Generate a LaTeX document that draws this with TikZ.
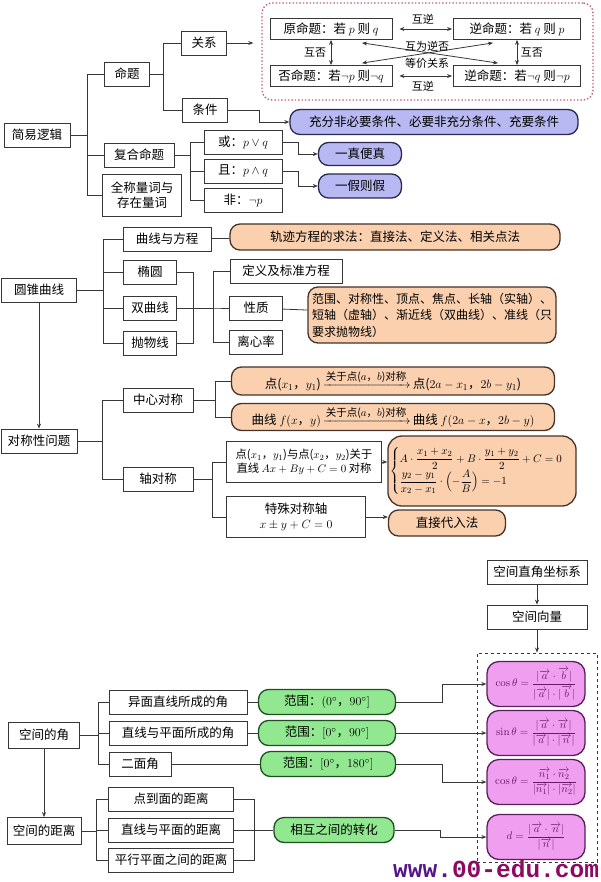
\documentclass[tikz,border=0pt]{standalone}
\usepackage{amsmath,amssymb}
\usepackage[no-math]{fontspec}
\setmainfont{Noto Sans CJK SC}
\newfontfamily\webfont{Liberation Mono}
\usepackage{tikz}
\usetikzlibrary{arrows.meta,positioning,calc}
\definecolor{linegrey}{RGB}{55,55,55}
\definecolor{lavfill}{RGB}{184,184,242}
\definecolor{lavborder}{RGB}{40,40,80}
\definecolor{peachfill}{RGB}{250,208,175}
\definecolor{peachborder}{RGB}{70,50,40}
\definecolor{greenfill}{RGB}{145,232,145}
\definecolor{greenborder}{RGB}{30,80,30}
\definecolor{pinkfill}{RGB}{240,158,240}
\definecolor{pinkborder}{RGB}{90,30,90}
\definecolor{pinktext}{RGB}{105,25,105}
\definecolor{dotred}{RGB}{195,95,115}
\definecolor{wwwpurple}{RGB}{85,20,140}
\definecolor{eduplum}{RGB}{140,10,100}
\tikzset{
  base/.style={font=\fontsize{12.5}{15}\selectfont, align=center, inner sep=2pt, text=black},
  box/.style={base, rectangle, draw=linegrey, fill=white, line width=0.8pt, minimum height=24pt},
  pill/.style={base, rectangle, rounded corners=10pt, line width=1.3pt, minimum height=25pt},
  lavpill/.style={pill, draw=lavborder, fill=lavfill},
  peachpill/.style={pill, draw=peachborder, fill=peachfill},
  greenpill/.style={pill, draw=greenborder, fill=greenfill},
  pinkpill/.style={pill, draw=pinkborder, fill=pinkfill, text=pinktext, rounded corners=12pt, minimum width=98pt, minimum height=45pt, font=\fontsize{11}{13}\selectfont},
  dotframe/.style={rectangle, draw=dotred, dotted, line width=1.4pt, rounded corners=10pt},
  dashframe/.style={rectangle, draw=linegrey, dashed, line width=0.9pt},
  lbl/.style={base, font=\fontsize{11}{13}\selectfont, inner sep=1.5pt},
  link/.style={draw=linegrey, line width=0.8pt},
  arr/.style={link, -{Stealth[length=5pt,width=4pt]}},
  arr2/.style={link, {Stealth[length=5pt,width=4pt]}-{Stealth[length=5pt,width=4pt]}},
}
\begin{document}
\begin{tikzpicture}[x=1pt,y=-1pt]
  \useasboundingbox (0,0) rectangle (600,882);
  % simple logic
  \node[box, minimum width=66] (jyl) at (37,135) {简易逻辑};
  \node[box, minimum width=45] (mt) at (127,74) {命题};
  \node[box, minimum width=45] (gx) at (204,43) {关系};
  \node[box, minimum width=45] (tj) at (205,110) {条件};
  \node[box, minimum width=70] (fhmt) at (139,155) {复合命题};
  \node[box, minimum width=79, minimum height=42] (qc) at (142,195) {全称量词与\\存在量词};
  \node[box, minimum width=78] (huo) at (243,142) {或：$p\vee q$};
  \node[box, minimum width=78] (qie) at (243,171) {且：$p\wedge q$};
  \node[box, minimum width=78] (fei) at (243,200) {非：$\neg p$};
  \node[lavpill, minimum width=83, minimum height=23] (yzbz) at (360,154) {一真便真};
  \node[lavpill, minimum width=83, minimum height=24] (yjzj) at (360,186) {一假则假};
  \node[lavpill, minimum width=288] (cf) at (434,122) {充分非必要条件、必要非充分条件、充要条件};
  \foreach \c in {mt,fhmt,qc} \draw[link] (jyl.east) -- ++(17,0) |- (\c.west);
  \foreach \c in {gx,tj} \draw[link] (mt.east) -- ++(13,0) |- (\c.west);
  \foreach \c in {huo,qie,fei} \draw[link] (fhmt.east) -- ++(16,0) |- (\c.west);
  \draw[arr] (tj.east) -- ++(31,0) |- (cf.west);
  \draw[arr] (huo.east) -- ++(16,0) |- (yzbz.west);
  \draw[arr] (qie.east) -- ++(16,0) |- (yjzj.west);
  % four propositions
  \node[dotframe, minimum width=331, minimum height=97] (mtk) at (427.5,51.5) {};
  \node[box, minimum width=122, minimum height=21] (yuan) at (331,29) {原命题：若 $p$ 则 $q$};
  \node[box, minimum width=127, minimum height=21] (ni) at (517,29) {逆命题：若 $q$ 则 $p$};
  \node[box, minimum width=122, minimum height=21] (fou) at (331,76) {否命题：若$\neg p$ 则$\neg q$};
  \node[box, minimum width=127, minimum height=21] (nf) at (517,76) {逆命题：若$\neg q$ 则$\neg p$};
  \draw[arr, shorten >=8pt] (gx.east) -- (gx.east -| mtk.west);
  \draw[arr2, shorten <=7pt, shorten >=1pt] (yuan) -- (ni) node[midway, above=3pt, lbl] {互逆};
  \draw[arr2, shorten <=7pt, shorten >=1pt] (fou) -- (nf) node[midway, below=3pt, lbl] {互逆};
  \draw[arr2] (yuan) -- (fou) node[midway, left=3pt, lbl] {互否};
  \draw[arr2] (ni) -- (nf) node[midway, right=2pt, lbl] {互否};
  \draw[arr2] ($(yuan.south)+(31,3)$) -- ($(nf.north)+(-19,-2)$);
  \draw[arr2] ($(ni.south)+(-24,3)$) -- ($(fou.north)+(31,-2)$);
  \node[lbl] (hwnf) at (427,46) {互为逆否};
  \node[lbl] (djgx) at (427,63) {等价关系};
  % conic sections
  \node[box, minimum width=75] (yzqx) at (39,290) {圆锥曲线};
  \node[box, minimum width=88] (qxyfc) at (167,239) {曲线与方程};
  \node[box, minimum width=53] (ty) at (150,272) {椭圆};
  \node[box, minimum width=53] (sqx) at (150,308) {双曲线};
  \node[box, minimum width=53] (pwx) at (150,343) {抛物线};
  \node[peachpill, minimum width=330, minimum height=26] (gjfc) at (395,237) {轨迹方程的求法：直接法、定义法、相关点法};
  \node[box, minimum width=112] (dybz) at (286,271) {定义及标准方程};
  \node[box, minimum width=53] (xz) at (256,308) {性质};
  \node[box, minimum width=53] (lxl) at (256,342) {离心率};
  \node[peachpill, minimum width=248, minimum height=56, align=left, font=\fontsize{12}{16.5}\selectfont] (xzlist) at (432,315)
    {范围、对称性、顶点、焦点、长轴（实轴）、\\短轴（虚轴）、渐近线（双曲线）、准线（只\\要求抛物线）};
  \foreach \c in {qxyfc,ty,sqx,pwx} \draw[link] (yzqx.east) -- ++(26,0) |- (\c.west);
  \draw[link] (qxyfc) -- (gjfc);
  \draw[link] (ty.east) -- ++(16,0) |- (pwx.east);
  \foreach \c in {dybz,xz,lxl} \draw[link] (sqx.east) -- ++(36,0) |- (\c.west);
  \draw[link] (xz) -- (xzlist);
  % symmetry
  \node[box, minimum width=76] (dcx) at (39,441) {对称性问题};
  \node[box, minimum width=70] (zxdc) at (158,400) {中心对称};
  \node[box, minimum width=70] (zdc) at (158,479) {轴对称};
  \node[peachpill, minimum width=323, minimum height=28] (dian) at (393,381)
    {点($x_1$，$y_1$)\,$\xrightarrow{\text{\fontsize{10.5}{12}\selectfont 关于点($a$，$b$)对称}}$\,点($2a-x_1$，$2b-y_1$)};
  \node[peachpill, minimum width=323, minimum height=27] (quxian) at (393,417)
    {曲线 $f(x$，$y)$\,$\xrightarrow{\text{\fontsize{10.5}{12}\selectfont 关于点($a$，$b$)对称}}$\,曲线 $f(2a-x$，$2b-y)$};
  \node[box, minimum width=155, minimum height=41, inner sep=1pt, font=\fontsize{11.3}{14.5}\selectfont] (dxdc) at (304,462)
    {点($x_1$，$y_1$)与点($x_2$，$y_2$)关于\\直线 $Ax+By+C=0$ 对称};
  \node[box, minimum width=139, minimum height=41] (tsdc) at (296,517) {特殊对称轴\\$x\pm y+C=0$};
  \node[peachpill, minimum width=167, minimum height=70, rounded corners=14pt, font=\fontsize{11}{13}\selectfont] (fcz) at (482,471)
    {$\begin{cases} A\cdot\dfrac{x_1+x_2}{2}+B\cdot\dfrac{y_1+y_2}{2}+C=0\\[3pt] \dfrac{y_2-y_1}{x_2-x_1}\cdot\Bigl(-\dfrac{A}{B}\Bigr)=-1 \end{cases}$};
  \node[peachpill, minimum width=117, minimum height=26] (zjdr) at (447,523) {直接代入法};
  \draw[arr] (yzqx) -- (dcx);
  \foreach \c in {zxdc,zdc} \draw[link] (dcx.east) -- ++(25,0) |- (\c.west);
  \foreach \c in {dian,quxian} \draw[link] (zxdc.east) -- ++(22,0) |- (\c.west);
  \foreach \c in {dxdc,tsdc} \draw[link] (zdc.east) -- ++(19,0) |- (\c.west);
  \draw[arr] (dxdc.east) -- (dxdc.east -| fcz.west);
  \draw[arr] (tsdc.east) -- (tsdc.east -| zjdr.west);
  % space vectors
  \node[box, minimum width=100] (zjzb) at (537,572) {空间直角坐标系};
  \node[box, minimum width=100] (kjxl) at (537,617) {空间向量};
  \node[dashframe, minimum width=120, minimum height=209] (gsk) at (537,757.5) {};
  \node[pinkpill] (f1) at (536,684) {$\cos\theta=\dfrac{|\overrightarrow{a}\cdot\overrightarrow{b}|}{|\overrightarrow{a}|\cdot|\overrightarrow{b}|}$};
  \node[pinkpill] (f2) at (536,733) {$\sin\theta=\dfrac{|\overrightarrow{a}\cdot\overrightarrow{n}|}{|\overrightarrow{a}|\cdot|\overrightarrow{n}|}$};
  \node[pinkpill] (f3) at (536,782) {$\cos\theta=\dfrac{\overrightarrow{n_1}\cdot\overrightarrow{n_2}}{|\overrightarrow{n_1}|\cdot|\overrightarrow{n_2}|}$};
  \node[pinkpill] (f4) at (536,837) {$d=\dfrac{|\overrightarrow{a}\cdot\overrightarrow{n}|}{|\overrightarrow{n}|}$};
  \draw[arr] (zjzb) -- (kjxl);
  \draw[arr] (kjxl) -- (gsk);
  % angles and distances
  \node[box, minimum width=71, minimum height=26] (kjdj) at (44,735) {空间的角};
  \node[box, minimum width=138] (ymzx) at (178,702) {异面直线所成的角};
  \node[box, minimum width=138] (zxpm) at (178,733) {直线与平面所成的角};
  \node[box, minimum width=62] (emj) at (140,764) {二面角};
  \node[box, minimum width=74, minimum height=27] (kjjl) at (44,831) {空间的距离};
  \node[box, minimum width=125] (ddm) at (171,799) {点到面的距离};
  \node[box, minimum width=125] (zxpmjl) at (171,830) {直线与平面的距离};
  \node[box, minimum width=125] (pxpm) at (171,860) {平行平面之间的距离};
  \node[greenpill, minimum width=137] (fw1) at (327,702) {范围：$(0^\circ$，$90^\circ]$};
  \node[greenpill, minimum width=137] (fw2) at (327,733) {范围：$[0^\circ$，$90^\circ]$};
  \node[greenpill, minimum width=135] (fw3) at (328,764) {范围：$[0^\circ$，$180^\circ]$};
  \node[greenpill, minimum width=120] (xhzh) at (334,830) {相互之间的转化};
  \foreach \c in {ymzx,zxpm,emj} \draw[link] (kjdj.east) -- ++(18,0) |- (\c.west);
  \foreach \c in {ddm,zxpmjl,pxpm} \draw[link] (kjjl.east) -- ++(15,0) |- (\c.west);
  \draw[arr] (kjdj) -- (kjjl);
  \draw[link] (ddm.east) -- ++(20,0) |- (pxpm.east);
  \draw[link] (ymzx) -- (fw1);
  \draw[link] (zxpm) -- (fw2);
  \draw[link] (emj) -- (fw3);
  \draw[link] (zxpmjl) -- (xhzh);
  \draw[arr] (fw1.east) -- ++(46,0) |- (f1.west);
  \draw[arr] (fw2) -- (f2);
  \draw[arr] (fw3.east) -- ++(46,0) |- (f3.west);
  \draw[arr] (xhzh.east) -- ++(46,0) |- (f4.west);
  % watermark
  \node[anchor=base west, inner sep=0, font=\webfont\bfseries\fontsize{24.5}{25}\selectfont] (wm) at (393,877)
    {\textcolor{wwwpurple}{www.}\textcolor{eduplum}{00-edu.com}};
\end{tikzpicture}
\end{document}
